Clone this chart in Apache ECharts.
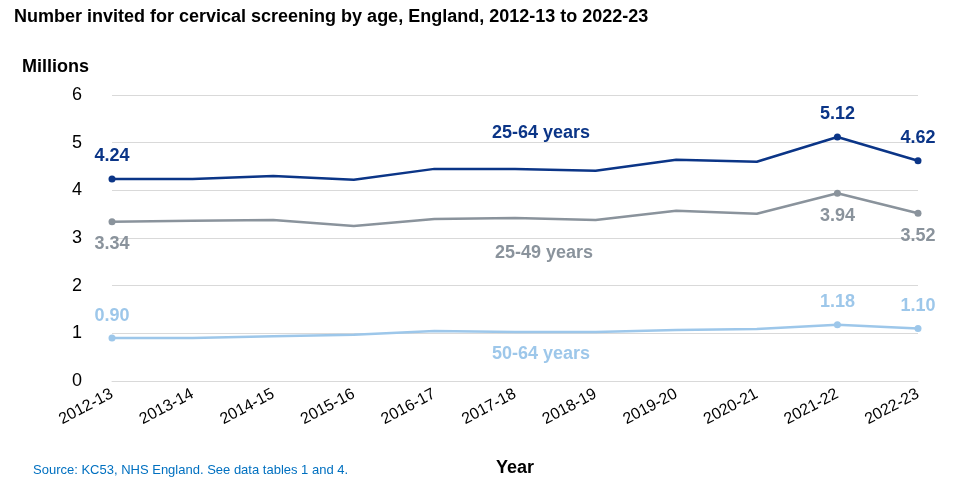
<!DOCTYPE html>
<html><head><meta charset="utf-8">
<script src="https://cdn.jsdelivr.net/npm/echarts@6/dist/echarts.min.js"></script>
<style>html,body{margin:0;background:#fff}#c{width:971px;height:487px}</style>
</head><body><div id="c"></div>
<script>
var years = ['2012-13','2013-14','2014-15','2015-16','2016-17','2017-18','2018-19','2019-20','2020-21','2021-22','2022-23'];
var age25to64 = [4.24,4.24,4.30,4.22,4.45,4.45,4.41,4.64,4.60,5.12,4.62];
var age25to49 = [3.34,3.36,3.38,3.25,3.40,3.42,3.38,3.57,3.51,3.94,3.52];
var age50to64 = [0.90,0.90,0.94,0.97,1.05,1.03,1.03,1.07,1.09,1.18,1.10];
var markedIdx = [0, 9, 10];

var chart = echarts.init(document.getElementById('c'));
var font = 'Liberation Sans, Arial, sans-serif';

function mkSeries(name, vals, color, pos) {
  return {
    name: name, type: 'line', data: vals.map(function (v, i) {
      var on = markedIdx.indexOf(i) >= 0;
      return { value: v, symbolSize: on ? 7 : 0,
        label: { show: on, position: pos, formatter: function (p) { return p.value.toFixed(2); } } };
    }),
    symbol: 'circle', lineStyle: { color: color, width: 2.5 }, itemStyle: { color: color },
    label: { color: color, fontSize: 18, fontWeight: 'bold', fontFamily: font, distance: 10 }
  };
}

chart.setOption({
  animation: false,
  grid: { left: 112, right: 53, top: 95, bottom: 106 },
  xAxis: {
    type: 'category', data: years, boundaryGap: false,
    name: 'Year', nameLocation: 'middle', nameGap: 78,
    nameTextStyle: { fontSize: 18, fontWeight: 'bold', color: '#000', fontFamily: font },
    axisLine: { lineStyle: { color: '#d9d9d9' } }, axisTick: { show: false },
    axisLabel: { rotate: 28, fontSize: 16, color: '#000', fontFamily: font, margin: 12 }
  },
  yAxis: {
    type: 'value', min: 0, max: 6, interval: 1,
    axisLabel: { fontSize: 18, color: '#000', fontFamily: font, margin: 30 },
    splitLine: { lineStyle: { color: '#d9d9d9' } }
  },
  series: [
    mkSeries('25-64 years', age25to64, '#0b3587', 'top'),
    mkSeries('25-49 years', age25to49, '#8a939c', 'bottom'),
    mkSeries('50-64 years', age50to64, '#9dc7ea', 'top')
  ],
  graphic: [
    { type: 'text', left: 14, top: 8, style: { text: 'Number invited for cervical screening by age, England, 2012-13 to 2022-23', fontSize: 18, fontWeight: 'bold', fill: '#000', fontFamily: font } },
    { type: 'text', left: 22, top: 58, style: { text: 'Millions', fontSize: 18, fontWeight: 'bold', fill: '#000', fontFamily: font } },
    { type: 'text', left: 492, top: 124, style: { text: '25-64 years', fontSize: 18, fontWeight: 'bold', fill: '#0b3587', fontFamily: font } },
    { type: 'text', left: 495, top: 244, style: { text: '25-49 years', fontSize: 18, fontWeight: 'bold', fill: '#8a939c', fontFamily: font } },
    { type: 'text', left: 492, top: 345, style: { text: '50-64 years', fontSize: 18, fontWeight: 'bold', fill: '#9dc7ea', fontFamily: font } },
    { type: 'text', left: 33, top: 464, style: { text: 'Source: KC53, NHS England. See data tables 1 and 4.', fontSize: 13, fill: '#0070c0', fontFamily: font } }
  ]
});
</script></body></html>
